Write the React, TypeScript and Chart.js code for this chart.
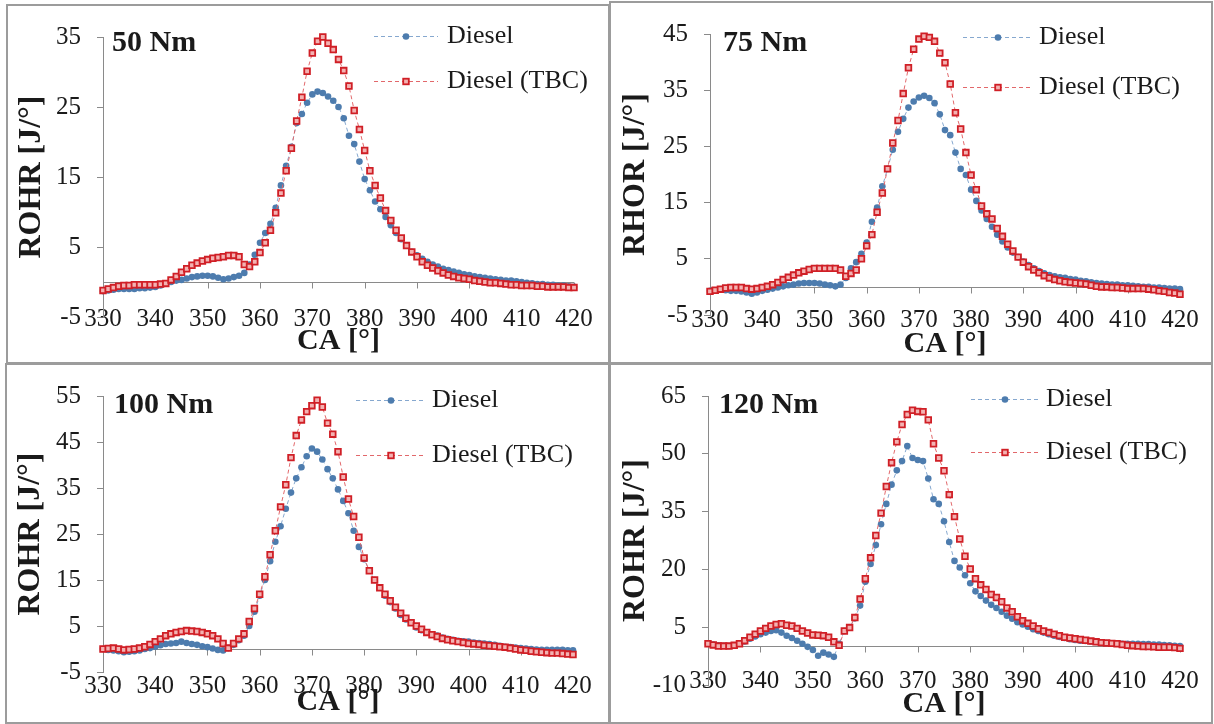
import React, { useEffect, useRef } from 'react';
import { Chart, registerables } from 'chart.js';

Chart.register(...registerables);

// ---------------- DATA ----------------
const CA = [
  330, 331, 332, 333, 334, 335, 336, 337, 338, 339,
  340, 341, 342, 343, 344, 345, 346, 347, 348, 349,
  350, 351, 352, 353, 354, 355, 356, 357, 358, 359,
  360, 361, 362, 363, 364, 365, 366, 367, 368, 369,
  370, 371, 372, 373, 374, 375, 376, 377, 378, 379,
  380, 381, 382, 383, 384, 385, 386, 387, 388, 389,
  390, 391, 392, 393, 394, 395, 396, 397, 398, 399,
  400, 401, 402, 403, 404, 405, 406, 407, 408, 409,
  410, 411, 412, 413, 414, 415, 416, 417, 418, 419,
  420,
];

const DIESEL_50 = [
  -1.3, -1.2, -1.1, -1.0, -1.0, -1.0, -1.0, -0.9, -0.9, -0.8,
  -0.7, -0.5, -0.2, 0.0, 0.2, 0.3, 0.5, 0.7, 0.8, 0.9,
  0.9, 0.8, 0.6, 0.4, 0.5, 0.7, 0.9, 1.3, 2.5, 3.9,
  5.6, 7.0, 8.3, 10.6, 13.8, 16.6, 19.3, 22.7, 24.0, 25.6,
  26.8, 27.2, 27.0, 26.5, 25.9, 25.0, 23.4, 20.9, 19.7, 17.2,
  14.7, 13.1, 11.5, 10.4, 9.3, 8.1, 7.0, 6.1, 5.2, 4.3,
  3.8, 3.3, 2.9, 2.5, 2.2, 1.9, 1.7, 1.5, 1.3, 1.1,
  1.0, 0.8, 0.7, 0.6, 0.5, 0.4, 0.3, 0.2, 0.2, 0.1,
  0.0, -0.1, -0.2, -0.3, -0.3, -0.4, -0.4, -0.5, -0.5, -0.6,
  -0.7,
];
const TBC_50 = [
  -1.2, -1.0, -0.8, -0.6, -0.5, -0.5, -0.4, -0.4, -0.4, -0.4,
  -0.4, -0.3, -0.2, 0.3, 0.8, 1.4, 1.9, 2.4, 2.7, 3.0,
  3.2, 3.4, 3.5, 3.6, 3.8, 3.8, 3.6, 2.5, 2.2, 2.9,
  4.2, 5.6, 7.4, 9.9, 12.7, 15.9, 19.1, 23.0, 26.4, 30.1,
  32.7, 34.4, 35.0, 34.1, 33.2, 31.8, 30.2, 28.0, 24.5, 21.8,
  18.8, 15.9, 13.8, 12.0, 10.2, 8.8, 7.4, 6.3, 5.2, 4.3,
  3.6, 2.9, 2.4, 2.0, 1.6, 1.3, 1.0, 0.8, 0.6, 0.5,
  0.4, 0.2, 0.1, 0.0, -0.1, -0.1, -0.2, -0.3, -0.4, -0.4,
  -0.5, -0.5, -0.5, -0.6, -0.6, -0.7, -0.7, -0.7, -0.7, -0.8,
  -0.8,
];

const DIESEL_75 = [
  -0.7, -0.6, -0.5, -0.6, -0.7, -0.7, -0.8, -1.0, -1.2, -1.0,
  -0.7, -0.5, -0.3, -0.1, 0.1, 0.3, 0.4, 0.6, 0.7, 0.7,
  0.7, 0.6, 0.4, 0.3, 0.1, 0.4, 1.6, 3.3, 4.4, 5.9,
  7.9, 11.6, 14.1, 17.9, 21.0, 24.4, 27.6, 29.9, 31.9, 33.0,
  33.7, 34.0, 33.6, 32.7, 30.7, 27.9, 27.0, 23.9, 21.0, 19.9,
  17.3, 15.3, 13.6, 12.1, 10.7, 9.3, 8.1, 7.0, 6.1, 5.3,
  4.5, 3.9, 3.3, 2.8, 2.4, 2.1, 1.9, 1.7, 1.6, 1.4,
  1.3, 1.1, 1.0, 0.8, 0.7, 0.6, 0.5, 0.4, 0.4, 0.3,
  0.3, 0.2, 0.1, 0.0, 0.0, -0.1, -0.1, -0.2, -0.3, -0.3,
  -0.4,
];
const TBC_75 = [
  -0.8, -0.6, -0.4, -0.2, -0.1, -0.1, -0.1, -0.3, -0.4, -0.3,
  -0.1, 0.1, 0.4, 0.8, 1.3, 1.7, 2.1, 2.5, 2.8, 3.1,
  3.3, 3.3, 3.3, 3.3, 3.3, 3.0, 1.9, 2.4, 3.0, 5.0,
  7.3, 9.3, 13.3, 16.7, 21.0, 25.6, 29.6, 34.4, 39.0, 42.3,
  44.1, 44.6, 44.4, 43.7, 41.6, 39.9, 36.1, 31.0, 28.1, 23.9,
  19.9, 17.3, 14.4, 13.0, 12.1, 10.4, 9.0, 7.6, 6.4, 5.3,
  4.4, 3.6, 3.0, 2.5, 2.0, 1.6, 1.3, 1.1, 0.9, 0.8,
  0.7, 0.6, 0.5, 0.3, 0.1, 0.0, 0.0, -0.1, -0.1, -0.2,
  -0.3, -0.3, -0.3, -0.3, -0.4, -0.5, -0.7, -0.8, -1.0, -1.1,
  -1.3,
];

const DIESEL_100 = [
  0.0, -0.2, -0.3, -0.5, -0.7, -0.6, -0.5, -0.3, 0.0, 0.2,
  0.5, 0.8, 1.1, 1.2, 1.3, 1.6, 1.3, 1.1, 0.9, 0.6,
  0.4, 0.1, -0.2, -0.3, 0.2, 0.9, 1.9, 2.9, 5.0, 8.1,
  11.6, 15.0, 19.1, 23.3, 26.7, 30.5, 34.0, 37.1, 39.5, 41.9,
  43.6, 42.9, 41.2, 39.1, 37.1, 34.7, 32.2, 29.5, 25.7, 22.2,
  19.5, 17.0, 15.0, 13.3, 11.6, 10.2, 8.8, 7.4, 6.4, 5.7,
  4.7, 4.1, 3.6, 3.2, 2.9, 2.5, 2.2, 2.0, 1.8, 1.7,
  1.6, 1.4, 1.3, 1.2, 1.1, 0.9, 0.7, 0.5, 0.4, 0.3,
  0.2, 0.1, 0.0, -0.1, -0.2, -0.2, -0.2, -0.2, -0.2, -0.3,
  -0.3,
];
const TBC_100 = [
  0.0, 0.1, 0.2, 0.0, -0.2, -0.1, 0.0, 0.2, 0.5, 1.0,
  1.6, 2.2, 2.9, 3.3, 3.6, 3.8, 4.0, 3.9, 3.8, 3.6,
  3.3, 2.9, 2.2, 1.2, 0.2, 1.2, 2.2, 3.3, 6.0, 8.8,
  11.9, 15.7, 20.5, 25.7, 30.9, 35.7, 41.6, 46.4, 49.8, 51.6,
  52.9, 54.1, 52.6, 49.1, 46.7, 42.9, 37.4, 32.6, 28.8, 24.3,
  19.8, 17.0, 15.0, 13.3, 11.9, 10.5, 9.1, 7.8, 6.7, 5.7,
  5.0, 4.3, 3.6, 3.1, 2.7, 2.3, 2.0, 1.8, 1.6, 1.4,
  1.2, 1.1, 1.0, 0.8, 0.7, 0.6, 0.5, 0.4, 0.2, 0.0,
  -0.2, -0.3, -0.5, -0.6, -0.7, -0.8, -0.9, -0.9, -1.0, -1.1,
  -1.2,
];

const DIESEL_120 = [
  0.7, 0.5, 0.3, 0.2, 0.1, 0.3, 0.7, 1.3, 2.0, 2.6,
  3.2, 3.6, 4.0, 4.2, 3.6, 2.8, 2.2, 1.5, 0.7, -0.1,
  -0.9, -2.4, -1.6, -2.1, -2.7, 0.7, 4.0, 4.9, 7.3, 10.6,
  16.8, 21.4, 26.3, 31.7, 37.0, 42.0, 45.7, 48.1, 52.0, 48.9,
  48.4, 48.1, 43.6, 38.2, 37.0, 32.5, 27.1, 22.2, 20.5, 18.5,
  16.4, 14.3, 13.1, 11.9, 10.8, 10.0, 9.0, 8.0, 7.2, 6.3,
  5.7, 5.1, 4.5, 4.0, 3.6, 3.2, 2.8, 2.5, 2.2, 1.9,
  1.7, 1.5, 1.4, 1.3, 1.2, 1.0, 0.9, 0.8, 0.7, 0.7,
  0.7, 0.7, 0.7, 0.6, 0.6, 0.5, 0.5, 0.4, 0.3, 0.2,
  0.1,
];
const TBC_120 = [
  0.7, 0.4, 0.1, 0.1, 0.1, 0.3, 0.7, 1.5, 2.4, 3.2,
  4.0, 4.7, 5.3, 5.7, 5.9, 5.5, 5.3, 4.7, 4.0, 3.5,
  3.0, 2.9, 2.8, 2.4, 1.2, 0.3, 4.0, 4.9, 7.5, 12.3,
  17.6, 23.0, 28.8, 34.6, 41.5, 47.7, 53.1, 57.6, 60.2, 61.3,
  61.0, 60.9, 58.8, 52.6, 48.9, 45.6, 39.4, 33.7, 27.9, 23.4,
  20.1, 17.6, 16.0, 14.8, 13.5, 12.7, 11.6, 10.0, 9.0, 7.7,
  6.7, 6.0, 5.3, 4.6, 4.0, 3.6, 3.2, 2.8, 2.4, 2.2,
  2.0, 1.8, 1.6, 1.4, 1.2, 1.0, 0.9, 0.8, 0.7, 0.5,
  0.3, 0.2, 0.1, 0.0, 0.0, -0.1, -0.2, -0.2, -0.2, -0.3,
  -0.5,
];

const SERIES_LABELS = ['Diesel', 'Diesel (TBC)'];
const PANEL_TITLES = ['50 Nm', '75 Nm', '100 Nm', '120 Nm'];
const Y_TITLES = ['ROHR [J/°]', 'RHOR [J/°]', 'ROHR [J/°]', 'ROHR [J/°]'];
const X_TITLE = 'CA [°]';
const Y_MIN = [-5, -5, -5, -10];
const Y_MAX = [35, 45, 55, 65];
const Y_STEP = [10, 10, 10, 15];
const X_MIN = 330;
const X_MAX = 420;
const X_STEP = 10;
const PANEL_DIESEL = [DIESEL_50, DIESEL_75, DIESEL_100, DIESEL_120];
const PANEL_TBC = [TBC_50, TBC_75, TBC_100, TBC_120];

// ---------------- STYLE / LAYOUT ----------------
const FONT = "'Liberation Serif', 'Times New Roman', serif";
const AXIS_GRAY = '#8a8a8a';
const BLUE = '#4d7cae';
const BLUE_LINE = '#86a8cf';
const RED = '#d01f26';
const RED_FILL = '#f3b2b2';
const RED_LINE = '#e2686b';
const TEXT = '#1a1a1a';

type Layout = {
  box: { left: number; top: number; width: number; height: number };
  plot: { l: number; r: number; t: number; b: number };
  xTickPad: number;
  xTitlePad: number;
  yTitlePad: number;
  title: { x: number; y: number };
  legend: { x0: number; x1: number; tx: number; y: number[] };
};

const LAYOUTS: Layout[] = [
  {
    box: { left: 6, top: 4, width: 604, height: 360 },
    plot: { l: 95, r: 566, t: 19, b: 311 },
    xTickPad: -21, xTitlePad: 3, yTitlePad: 5,
    title: { x: 104, y: 37 },
    legend: { x0: 366, x1: 430, tx: 439, y: [30, 75] },
  },
  {
    box: { left: 609, top: 1, width: 604, height: 363 },
    plot: { l: 99, r: 569, t: 20, b: 312 },
    xTickPad: -18, xTitlePad: 0, yTitlePad: 6,
    title: { x: 112, y: 40 },
    legend: { x0: 352, x1: 422, tx: 428, y: [34, 84] },
  },
  {
    box: { left: 5, top: 363, width: 605, height: 361 },
    plot: { l: 96, r: 566, t: 17, b: 307 },
    xTickPad: -9, xTitlePad: 2, yTitlePad: 5,
    title: { x: 107, y: 40 },
    legend: { x0: 349, x1: 419, tx: 425, y: [35, 90] },
  },
  {
    box: { left: 609, top: 363, width: 604, height: 361 },
    plot: { l: 97, r: 569, t: 17, b: 320 },
    xTickPad: -27, xTitlePad: 0, yTitlePad: 6,
    title: { x: 108, y: 40 },
    legend: { x0: 360, x1: 428, tx: 435, y: [34, 87] },
  },
];

const BORDER = 2;

function drawMarker(ctx: CanvasRenderingContext2D, kind: number, x: number, y: number) {
  if (kind === 0) {
    ctx.beginPath();
    ctx.arc(x, y, 3.3, 0, Math.PI * 2);
    ctx.fillStyle = BLUE;
    ctx.fill();
  } else {
    ctx.fillStyle = RED_FILL;
    ctx.strokeStyle = RED;
    ctx.lineWidth = 1.8;
    ctx.fillRect(x - 2.8, y - 2.8, 5.6, 5.6);
    ctx.strokeRect(x - 2.8, y - 2.8, 5.6, 5.6);
  }
}

function Panel({ index }: { index: number }) {
  const ref = useRef<HTMLCanvasElement | null>(null);
  const L = LAYOUTS[index];
  const innerW = L.box.width - 2 * BORDER;
  const innerH = L.box.height - 2 * BORDER;

  useEffect(() => {
    const canvas = ref.current;
    if (!canvas) return;
    const diesel = PANEL_DIESEL[index];
    const tbc = PANEL_TBC[index];

    const decor = {
      id: 'decor' + index,
      beforeDatasetsDraw(chart: any) {
        const ctx = chart.ctx as CanvasRenderingContext2D;
        const xs = chart.scales.x;
        const ys = chart.scales.y;
        const y0 = Math.round(ys.getPixelForValue(0)) + 0.5;
        ctx.save();
        ctx.strokeStyle = AXIS_GRAY;
        ctx.lineWidth = 1;
        ctx.beginPath();
        ctx.moveTo(chart.chartArea.left, y0);
        ctx.lineTo(chart.chartArea.right, y0);
        for (let v = X_MIN + X_STEP; v <= X_MAX; v += X_STEP) {
          const px = Math.round(xs.getPixelForValue(v)) + 0.5;
          ctx.moveTo(px, y0);
          ctx.lineTo(px, y0 + 6);
        }
        ctx.stroke();
        ctx.restore();
      },
      afterDatasetsDraw(chart: any) {
        const ctx = chart.ctx as CanvasRenderingContext2D;
        ctx.save();
        ctx.fillStyle = TEXT;
        ctx.font = `bold 30px ${FONT}`;
        ctx.textBaseline = 'middle';
        ctx.textAlign = 'left';
        ctx.fillText(PANEL_TITLES[index], L.title.x, L.title.y);
        for (let k = 0; k < 2; k++) {
          const y = L.legend.y[k];
          ctx.setLineDash([4, 3]);
          ctx.lineWidth = 1;
          ctx.strokeStyle = k === 0 ? BLUE_LINE : RED_LINE;
          ctx.beginPath();
          ctx.moveTo(L.legend.x0, y + 0.5);
          ctx.lineTo(L.legend.x1, y + 0.5);
          ctx.stroke();
          ctx.setLineDash([]);
          drawMarker(ctx, k, (L.legend.x0 + L.legend.x1) / 2, y + 0.5);
          ctx.fillStyle = TEXT;
          ctx.font = `26px ${FONT}`;
          ctx.textBaseline = 'middle';
          ctx.textAlign = 'left';
          ctx.fillText(SERIES_LABELS[k], L.legend.tx, y);
        }
        ctx.restore();
      },
    };

    const chart = new Chart(canvas, {
      type: 'line',
      data: {
        datasets: [
          {
            label: SERIES_LABELS[0],
            data: CA.map((x, i) => ({ x, y: diesel[i] })),
            borderColor: BLUE_LINE,
            borderWidth: 1,
            borderDash: [4, 3],
            pointStyle: 'circle',
            pointRadius: 3.3,
            pointBackgroundColor: BLUE,
            pointBorderColor: BLUE,
            pointBorderWidth: 0,
            clip: false as any,
            order: 2,
          },
          {
            label: SERIES_LABELS[1],
            data: CA.map((x, i) => ({ x, y: tbc[i] })),
            borderColor: RED_LINE,
            borderWidth: 1,
            borderDash: [4, 3],
            pointStyle: 'rect',
            pointRadius: 4,
            pointBackgroundColor: RED_FILL,
            pointBorderColor: RED,
            pointBorderWidth: 1.8,
            clip: false as any,
            order: 1,
          },
        ],
      },
      options: {
        responsive: false,
        animation: false,
        events: [],
        layout: {
          padding: { left: 0, top: L.plot.t, right: innerW - L.plot.r, bottom: 0 },
        },
        plugins: {
          legend: { display: false },
          tooltip: { enabled: false },
          title: { display: false },
        },
        scales: {
          x: {
            type: 'linear',
            min: X_MIN,
            max: X_MAX,
            grid: { display: false },
            border: { display: false },
            ticks: {
              stepSize: X_STEP,
              autoSkip: false,
              maxRotation: 0,
              padding: L.xTickPad,
              color: TEXT,
              font: { family: FONT, size: 25 },
            },
            title: {
              display: true,
              text: X_TITLE,
              color: TEXT,
              font: { family: FONT, size: 30, weight: 'bold' },
              padding: { top: 0, bottom: L.xTitlePad },
            },
            afterFit: (s: any) => {
              s.height = innerH - L.plot.b;
              // labels sit partly over the plot bottom, as in the original: no label clipping
              s._computeLabelArea = () => undefined;
            },
          },
          y: {
            type: 'linear',
            min: Y_MIN[index],
            max: Y_MAX[index],
            grid: {
              display: true,
              drawOnChartArea: false,
              drawTicks: true,
              tickLength: 6,
              color: AXIS_GRAY,
            },
            border: { display: true, color: AXIS_GRAY, width: 1 },
            ticks: {
              stepSize: Y_STEP[index],
              autoSkip: false,
              padding: 16,
              color: TEXT,
              font: { family: FONT, size: 25 },
            },
            title: {
              display: true,
              text: Y_TITLES[index],
              color: TEXT,
              font: { family: FONT, size: 32, weight: 'bold' },
              padding: { top: L.yTitlePad, bottom: 0 },
            },
            afterFit: (s: any) => {
              s.width = L.plot.l;
            },
          },
        },
      } as any,
      plugins: [decor],
    });
    return () => chart.destroy();
  }, [index]);

  return (
    <div
      style={{
        position: 'absolute',
        left: L.box.left,
        top: L.box.top,
        width: L.box.width,
        height: L.box.height,
        boxSizing: 'border-box',
        border: `${BORDER}px solid #9c9c9c`,
        background: '#fff',
      }}
    >
      <canvas ref={ref} width={innerW} height={innerH} style={{ display: 'block' }} />
    </div>
  );
}

export default function App() {
  return (
    <div
      style={{
        position: 'absolute',
        left: 0,
        top: 0,
        width: 1214,
        height: 724,
        background: '#fff',
        overflow: 'hidden',
      }}
    >
      {[0, 1, 2, 3].map((i) => (
        <Panel key={i} index={i} />
      ))}
    </div>
  );
}
